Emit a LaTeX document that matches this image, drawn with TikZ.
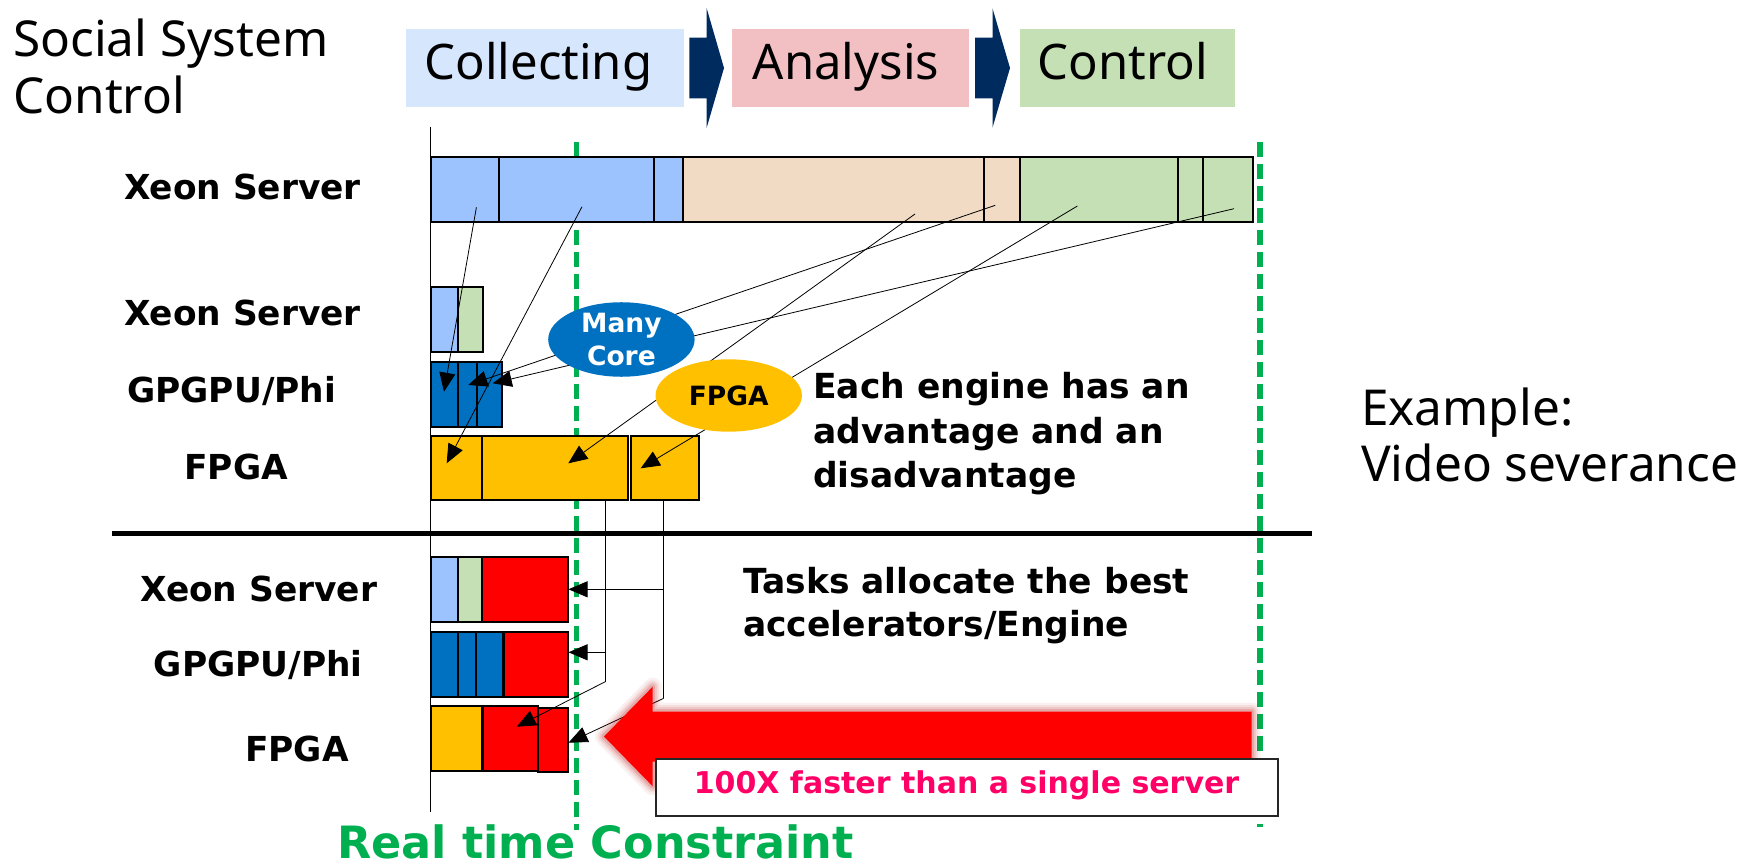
\documentclass[tikz,border=0pt]{standalone}
\usepackage{fontspec}
\setmainfont{Noto Sans}
\newfontfamily\vb{DejaVu Sans}
\usetikzlibrary{fit,arrows.meta,shapes.geometric}
\definecolor{lblue}{HTML}{9DC3FF}
\definecolor{peach}{HTML}{F2DBC4}
\definecolor{lgreen}{HTML}{C5E0B4}
\definecolor{mblue}{HTML}{0070C0}
\definecolor{gold}{HTML}{FFC000}
\definecolor{navy}{HTML}{002B5E}
\definecolor{hblue}{HTML}{D6E6FC}
\definecolor{hpink}{HTML}{F2C0C3}
\definecolor{hgreen}{HTML}{C5E0B4}
\definecolor{rgreen}{HTML}{00B050}
\definecolor{pinktext}{HTML}{FF0066}
\definecolor{glowred}{HTML}{B00000}
\tikzset{
  box/.style={draw=black, line width=2pt, inner sep=0pt, outer sep=0pt},
  conn/.style={line width=0.8pt, -{Triangle[length=19pt,width=16pt]}},
  plain/.style={line width=0.8pt},
  gdash/.style={draw=rgreen, line width=5.5pt, dash pattern=on 15pt off 7pt},
  lbl/.style={font=\vb\bfseries\fontsize{34.4}{40}\selectfont, inner sep=0pt, anchor=base},
  note/.style={font=\vb\bfseries\fontsize{34.5}{40}\selectfont, inner sep=0pt, anchor=base west},
  hdr/.style={font=\fontsize{49}{58}\selectfont, inner sep=0pt, anchor=base},
  big/.style={font=\fontsize{49.5}{58}\selectfont, inner sep=0pt, anchor=base west},
  hbox/.style={inner sep=0pt, outer sep=0pt},
  chev/.style={fill=navy, draw=none},
  oval/.style={ellipse, draw=none, minimum width=146.4pt, minimum height=72.4pt, inner sep=0pt, align=center,
     font=\vb\bfseries\fontsize{26.5}{33}\selectfont},
}
\newcommand\bx[6]{\node[box, fill=#2, fit={(#3,#4) (#5,#6)}] (#1) {};}
\begin{document}
\begin{tikzpicture}[x=1pt,y=-1pt]
\useasboundingbox (0,0) rectangle (1755,866);

% header
\node[big] (tl1) at (13,56.7) {Social System};
\node[big] (tl2) at (13,113.3) {Control};
\node[hbox, fill=hblue, fit={(406.3,29) (684,106.7)}] (hc) {};
\node[hbox, fill=hpink, fit={(732,29) (969.3,106.7)}] (ha) {};
\node[hbox, fill=hgreen, fit={(1019.7,29) (1234.6,106.7)}] (hg) {};
\node[hdr] (tc) at (538.4,80) {Collecting};
\node[hdr] (ta) at (846,80) {Analysis};
\node[hdr] (tg) at (1122.7,80) {Control};
\fill[chev] (689.3,37.7) -- (706.7,37.7) -- (706.7,8.3) -- (724,68) -- (706.7,127.7) -- (706.7,98.3) -- (689.3,98.3) -- cycle;
\fill[chev] (975,37.7) -- (992.5,37.7) -- (992.5,8.3) -- (1010,68) -- (992.5,127.7) -- (992.5,98.3) -- (975,98.3) -- cycle;

% green dashed lines and axis
\coordinate (ga) at (576.5,141.7);
\coordinate (gb) at (576.5,830);
\coordinate (gc) at (1260,141.7);
\coordinate (gd) at (1260,827);
\draw[gdash] (ga) -- (gb);
\draw[gdash] (gc) -- (gd);
\coordinate (ax1) at (430.5,126.7);
\coordinate (ax2) at (430.5,811.7);
\draw[line width=1.2pt] (ax1) -- (ax2);
\coordinate (hl1) at (112,533.5);
\coordinate (hl2) at (1312,533.5);
\draw[line width=5pt] (hl1) -- (hl2);

% top bar
\bx{t1}{lblue}{430.5}{156.7}{499.4}{221.7}
\bx{t2}{lblue}{499.4}{156.7}{654.4}{221.7}
\bx{t3}{lblue}{654.4}{156.7}{683}{221.7}
\bx{t4}{peach}{683}{156.7}{983.8}{221.7}
\bx{t5}{peach}{983.8}{156.7}{1020}{221.7}
\bx{t6}{lgreen}{1020}{156.7}{1177.8}{221.7}
\bx{t7}{lgreen}{1177.8}{156.7}{1202.5}{221.7}
\bx{t8}{lgreen}{1202.5}{156.7}{1252.5}{221.7}

% middle rows
\bx{x1}{lblue}{430.5}{286.7}{457.5}{351.7}
\bx{x2}{lgreen}{457.5}{286.7}{483.3}{351.7}
\bx{g1}{mblue}{430.5}{361.7}{457.5}{426.5}
\bx{g2}{mblue}{457.5}{361.7}{476.5}{426.5}
\bx{g3}{mblue}{476.5}{361.7}{501.7}{426.5}
\bx{f1}{gold}{430.5}{435.5}{482.2}{500}
\bx{f2}{gold}{482.2}{435.5}{628.3}{500}
\bx{f3}{gold}{630.7}{435.5}{698.6}{500}

% bottom rows
\bx{b1}{lblue}{430.5}{557.3}{457.5}{621.7}
\bx{b2}{lgreen}{457.5}{557.3}{482.2}{621.7}
\bx{b3}{red}{482.2}{557.3}{567.5}{621.7}
\bx{c1}{mblue}{430.5}{631.7}{457.5}{696.7}
\bx{c2}{mblue}{457.5}{631.7}{476.4}{696.7}
\bx{c3}{mblue}{476.4}{631.7}{503.4}{696.7}
\bx{c4}{red}{503.8}{631.7}{567.5}{696.7}
\bx{d1}{gold}{430.5}{706}{482.2}{770.7}
\bx{d2}{red}{483.3}{706}{537.5}{770.7}
\bx{d3}{red}{537.5}{707.5}{567.5}{772.3}

% connectors from the single server to the engines
\coordinate (s1) at (476.4,207.3);
\coordinate (s2) at (582,206.7);
\coordinate (s3) at (915,214);
\coordinate (s4) at (995.3,205.3);
\coordinate (s5) at (1077.4,206);
\coordinate (s6) at (1234,208.7);
\coordinate (e1) at (444,391.7);
\coordinate (e2) at (446.7,463.3);
\coordinate (e3) at (568.3,463.3);
\coordinate (e4) at (468.3,385);
\coordinate (e5) at (640.7,468.3);
\coordinate (e6) at (492.7,383.3);
\draw[conn] (s1) -- (e1);
\draw[conn] (s2) -- (e2);
\draw[conn] (s3) -- (e3);
\draw[conn] (s4) -- (e4);
\draw[conn] (s5) -- (e5);
\draw[conn] (s6) -- (e6);

% ellipses
\node[oval, fill=mblue, text=white] (mc) at (621.4,339.5) {Many\\Core};
\node[oval, fill=gold, text=black] (fp) at (728.7,395.5) {FPGA};

% allocation lines
\coordinate (v1t) at (605.3,500);
\coordinate (v1j) at (605.3,652.3);
\coordinate (v1b) at (605.3,681.7);
\coordinate (v2t) at (663.7,500);
\coordinate (v2j) at (663.7,589.3);
\coordinate (v2b) at (663.7,698.3);
\coordinate (a1) at (568.5,652.3);
\coordinate (a2) at (568.5,589.3);
\coordinate (a3) at (516.7,726.7);
\coordinate (a4) at (568.5,742.7);
\draw[plain] (v1t) -- (v1b);
\draw[plain] (v2t) -- (v2b);
\draw[conn] (v1j) -- (a1);
\draw[conn] (v2j) -- (a2);
\draw[conn] (v1b) -- (a3);
\draw[conn] (v2b) -- (a4);

% big red arrow with glow
\foreach \w/\o in {18/0.06,13/0.08,9/0.1,5/0.15}{
  \draw[glowred, line width=\w pt, opacity=\o, line join=round]
    (604,736.5) -- (652.7,686.7) -- (652.7,711.5) -- (1251.7,711.5) -- (1251.7,761.5) -- (652.7,761.5) -- (652.7,786.3) -- cycle;
}
\fill[red] (604,736.5) -- (652.7,686.7) -- (652.7,711.5) -- (1251.7,711.5) -- (1251.7,761.5) -- (652.7,761.5) -- (652.7,786.3) -- cycle;
\node[draw=black!85, line width=2pt, fill=white, inner sep=0pt, fit={(655.5,759) (1277.5,816)}] (tb) {};
\node[font=\vb\bfseries\fontsize{30}{36}\selectfont, text=pinktext, inner sep=0pt, anchor=base] (tbt) at (966.5,793.3) {100X faster than a single server};

% labels
\node[lbl] (l1) at (242.5,199.4) {Xeon Server};
\node[lbl] (l2) at (242.5,325.2) {Xeon Server};
\node[lbl] (l3) at (231.7,402) {GPGPU/Phi};
\node[lbl] (l4) at (236.2,479.6) {FPGA};
\node[lbl] (l5) at (258.8,601.6) {Xeon Server};
\node[lbl] (l6) at (258.3,676.7) {GPGPU/Phi};
\node[lbl] (l7) at (296.9,761.2) {FPGA};

\node[note] (n1) at (813,398.3) {Each engine has an};
\node[note] (n2) at (813,443.5) {advantage and an};
\node[note] (n3) at (813,487) {disadvantage};
\node[note] (n4) at (743,593.3) {Tasks allocate the best};
\node[note] (n5) at (743,636.7) {accelerators/Engine};

\node[big] (ex1) at (1361,425) {Example:};
\node[big] (ex2) at (1361,481.7) {Video severance};

\node[font=\vb\bfseries\fontsize{44.5}{52}\selectfont, text=rgreen, inner sep=0pt, anchor=base west] (rt) at (337,858) {Real time Constraint};
\end{tikzpicture}
\end{document}
